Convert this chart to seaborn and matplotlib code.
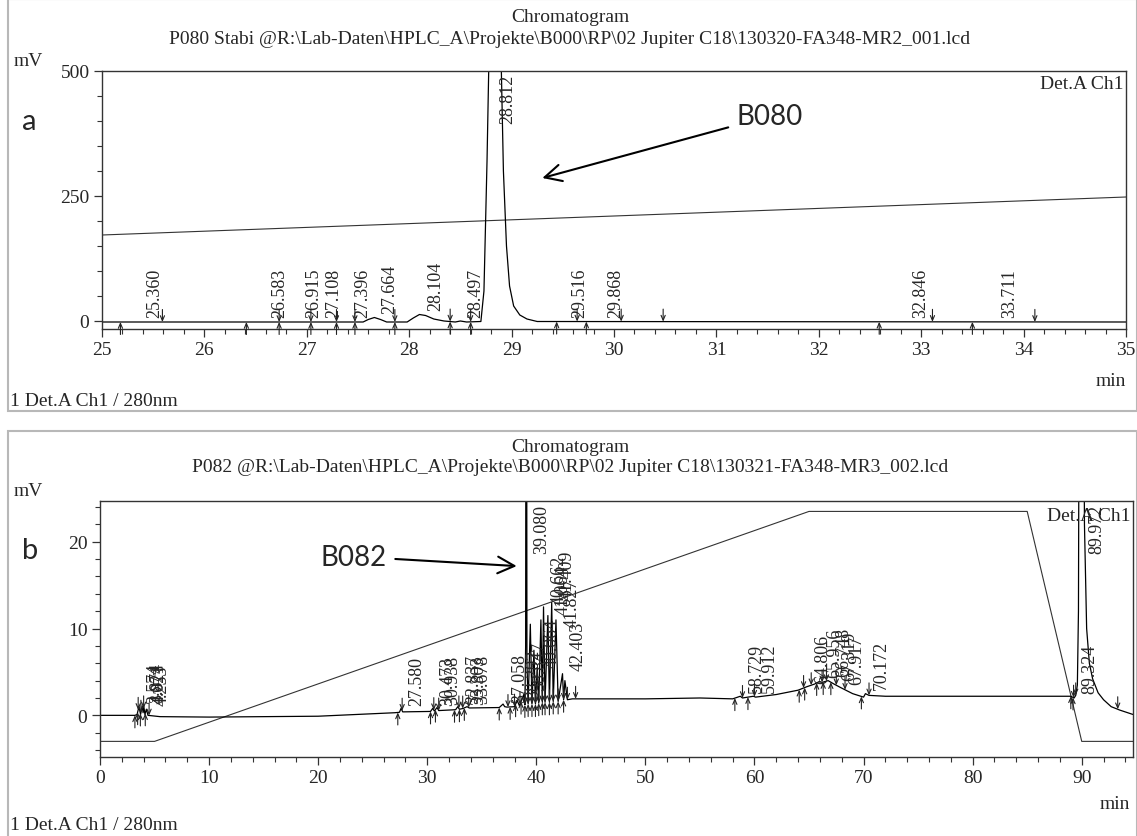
import numpy as np
import matplotlib
matplotlib.use("Agg")
import matplotlib.pyplot as plt
import seaborn as sns
from matplotlib.patches import Rectangle
from matplotlib.ticker import MultipleLocator

# ---------------- data: panel a (P080) ----------------
a_time = [25.0, 27.55, 27.60, 27.66, 27.72, 27.78, 27.98, 28.04, 28.10, 28.16, 28.24, 28.34,
          28.45, 28.50, 28.56, 28.70, 28.73, 28.76, 28.79, 28.84, 28.89, 28.92, 28.95, 28.98,
          29.02, 29.08, 29.15, 29.25, 35.0]
a_mv = [-2, -2, 3, 7, 3, -2, -2, 6, 13, 11, 4, 0,
        -2, 0, -2, -1, 60, 320, 650, 1100, 600, 300, 150, 70,
        30, 12, 4, -1, -2]
a_grad_time = [25.0, 35.0]
a_grad_val = [172, 248]
a_peak_rt = [25.360, 26.583, 26.915, 27.108, 27.396, 27.664, 28.104, 28.497, 28.812,
             29.516, 29.868, 32.846, 33.711]
a_peak_labels = ["25.360", "26.583", "26.915", "27.108", "27.396", "27.664", "28.104",
                 "28.497", "28.812", "29.516", "29.868", "32.846", "33.711"]
a_start = [25.18, 26.41, 26.73, 27.04, 27.29, 27.47, 27.86, 28.40, 28.60, 29.44, 29.73, 32.59, 33.50]
a_end = [25.59, 26.73, 27.04, 27.29, 27.47, 27.86, 28.40, 28.60, 29.64, 30.07, 30.48, 33.11, 34.11]

# ---------------- data: panel b (P082) ----------------
b_time = [0.0, 3.2, 3.4, 3.57, 3.72, 3.87, 3.95, 4.02, 4.12, 4.25, 4.4,
          5.5, 10.0, 20.0, 27.0, 27.45, 27.6, 27.75, 30.3, 30.5, 30.65,
          30.9, 31.05, 32.6, 32.8, 32.95, 33.3, 33.65, 33.85, 36.6, 36.95,
          37.1, 37.3, 38.0, 38.25, 38.45, 38.85, 38.95, 39.02, 39.06, 39.10,
          39.14, 39.25, 39.45, 39.6, 39.78, 39.92, 40.08, 40.22, 40.42, 40.55,
          40.66, 40.8, 41.06, 41.2, 41.41, 41.55, 41.8, 42.0, 42.4, 42.5,
          42.62, 42.85, 43.3, 45.0, 50.0, 55.0, 58.0, 58.7, 58.9, 59.9,
          60.1, 62.0, 64.0, 64.8, 65.5, 65.95, 66.2, 66.75, 67.3, 67.9,
          69.0, 70.0, 70.17, 70.5, 72.0, 85.0, 89.0, 89.3, 89.45, 89.6,
          89.7, 89.8, 90.1, 90.25, 90.45, 90.7, 91.0, 91.5, 92.0, 92.7,
          93.5, 94.7]
b_mv = [0.0, 0.0, 0.1, 1.0, 0.1, 1.1, 0.3, 1.0, 0.1, 0.7, 0.0,
        -0.15, -0.2, -0.1, 0.3, 0.35, 0.8, 0.4, 0.45, 0.8, 0.5,
        0.9, 0.55, 0.65, 1.0, 0.7, 0.8, 1.0, 0.85, 0.9, 1.3,
        1.0, 0.95, 1.0, 1.7, 1.1, 2.4, 1.2, 8.0, 60, 60,
        6.0, 1.3, 10.5, 1.3, 7.5, 1.3, 5.5, 1.4, 11.0, 1.5,
        12.5, 1.5, 11.5, 1.5, 13.0, 1.6, 11.0, 1.6, 4.8, 1.8,
        4.0, 1.8, 1.9, 1.9, 1.9, 2.0, 1.9, 2.2, 2.0, 2.2,
        2.1, 2.4, 2.9, 3.3, 3.6, 3.9, 3.8, 4.0, 3.6, 3.2,
        2.5, 2.1, 2.5, 2.3, 2.2, 2.2, 2.2, 2.0, 2.3, 3.5,
        12, 60, 60, 22, 10, 6.0, 4.2, 2.6, 1.8, 1.0,
        0.6, 0.1]
b_grad_time = [0.0, 5.0, 65.0, 85.0, 90.0, 94.7]
b_grad_val = [-3.0, -3.0, 23.5, 23.5, -3.0, -3.0]
b_peak_rt = [3.574, 3.874, 4.021, 4.253, 27.580, 30.473, 30.938, 32.837, 33.303, 33.678,
             37.058, 38.292, 38.847, 39.080, 40.064, 40.662, 41.064, 41.409, 41.827, 42.403,
             58.729, 59.912, 64.806, 65.956, 66.748, 67.319, 67.917, 70.172, 89.324, 89.972]
b_peak_labels = ["3.574", "3.874", "4.021", "4.253", "27.580", "30.473", "30.938", "32.837",
                 "33.303", "33.678", "37.058", "38.292", "38.847", "39.080", "40.064", "40.662",
                 "41.064", "41.409", "41.827", "42.403", "58.729", "59.912", "64.806", "65.956",
                 "66.748", "67.319", "67.917", "70.172", "89.324", "89.972"]
b_start = [3.2, 3.45, 3.7, 4.15, 27.3, 30.3, 30.75, 32.5, 32.95, 33.4, 36.6, 37.6, 38.1, 38.6,
           38.95, 39.25, 39.6, 39.92, 40.22, 40.55, 40.8, 41.2, 41.55, 42.0, 42.5, 58.2, 59.4,
           64.1, 64.6, 65.7, 66.3, 67.0, 69.8, 89.0, 89.2]
b_end = [3.5, 3.75, 4.0, 4.5, 27.7, 30.6, 31.05, 32.9, 33.25, 33.8, 37.4, 38.0, 38.5, 38.95,
         39.25, 39.6, 39.92, 40.22, 40.55, 40.8, 41.2, 41.55, 42.0, 42.5, 42.85, 43.6, 58.9,
         60.0, 64.5, 65.2, 66.2, 66.6, 67.5, 68.3, 70.5, 89.25, 89.45, 93.3]

title_main = "Chromatogram"
subtitle_a = r"P080 Stabi @R:\Lab-Daten\HPLC_A\Projekte\B000\RP\02 Jupiter C18\130320-FA348-MR2_001.lcd"
subtitle_b = r"P082 @R:\Lab-Daten\HPLC_A\Projekte\B000\RP\02 Jupiter C18\130321-FA348-MR3_002.lcd"
footer = "1 Det.A Ch1 / 280nm"

# ---------------- style ----------------
sns.set_style("ticks")
plt.rcParams["font.family"] = ["Liberation Serif", "DejaVu Serif"]
SANS = ["Lato", "Open Sans", "DejaVu Sans"]

W, H = 1137, 837
fig = plt.figure(figsize=(W / 100, H / 100), dpi=100)

# panel frames
fig.patches.append(Rectangle((8 / W, 1 - 412 / H), (W - 8) / W, 412 / H, transform=fig.transFigure,
                             fill=False, ec="#b8b8b8", lw=1.5))
fig.patches.append(Rectangle((8 / W, -0.01), (W - 8) / W, 1 - 432 / H + 0.01, transform=fig.transFigure,
                             fill=False, ec="#b8b8b8", lw=1.5))

axA = fig.add_axes([102 / W, 1 - 330 / H, (1126 - 102) / W, (330 - 72) / H])
axB = fig.add_axes([100 / W, 1 - 758 / H, (1133 - 100) / W, (758 - 502) / H])


def style_axes(ax):
    for s in ax.spines.values():
        s.set_color("#333333")
        s.set_linewidth(1.0)
    ax.tick_params(axis="both", which="major", direction="out", length=6, width=0.9,
                   labelsize=14, color="#333333", pad=3)
    ax.tick_params(axis="both", which="minor", direction="out", length=3.5, width=0.8, color="#333333")
    ax.set_xlabel("")
    ax.set_ylabel("")


def label_peaks(ax, rts, labels, t, v, ytop):
    for rt, lab in zip(rts, labels):
        h = float(np.interp(rt, t, v))
        if h > ytop:
            ax.annotate(lab, xy=(rt, ytop), xytext=(5, -2), textcoords="offset points",
                        rotation=90, ha="left", va="top", fontsize=13)
        else:
            ax.annotate(lab, xy=(rt, max(h, 0)), xytext=(5, 3), textcoords="offset points",
                        rotation=90, ha="left", va="bottom", fontsize=13)


def marks(ax, ts, t, v, up):
    for x in ts:
        y = float(np.interp(x, t, v))
        ax.annotate("", xy=(x, y), xytext=(0, -9 if up else 9), textcoords="offset points",
                    arrowprops=dict(arrowstyle="->,head_length=0.35,head_width=0.15", lw=0.8,
                                    color="#222222", shrinkA=0, shrinkB=0),
                    annotation_clip=False)


# ---------------- panel a ----------------
sns.lineplot(x=a_grad_time, y=a_grad_val, ax=axA, color="#333333", linewidth=0.8, estimator=None, sort=False)
sns.lineplot(x=a_time, y=a_mv, ax=axA, color="black", linewidth=0.9, estimator=None, sort=False)
axA.set_xlim(25, 35)
axA.set_ylim(-16, 500)
axA.xaxis.set_major_locator(MultipleLocator(1))
axA.xaxis.set_minor_locator(MultipleLocator(0.2))
axA.yaxis.set_major_locator(MultipleLocator(250))
axA.yaxis.set_minor_locator(MultipleLocator(50))
style_axes(axA)
label_peaks(axA, a_peak_rt, a_peak_labels, a_time, a_mv, 500)
marks(axA, a_start, a_time, a_mv, True)
marks(axA, a_end, a_time, a_mv, False)
axA.text(0.998, 0.985, "Det.A Ch1", transform=axA.transAxes, ha="right", va="top", fontsize=14)
axA.annotate("B080", xy=(29.30, 286), xytext=(31.2, 410), fontsize=20, family=SANS,
             ha="left", va="center",
             arrowprops=dict(arrowstyle="->,head_length=0.6,head_width=0.3", lw=1.5, color="black",
                             shrinkA=4, shrinkB=0))

fig.text(570 / W, 1 - 17 / H, title_main, ha="center", va="center", fontsize=14)
fig.text(570 / W, 1 - 40 / H, subtitle_a, ha="center", va="center", fontsize=14)
fig.text(14 / W, 1 - 62 / H, "mV", ha="left", va="center", fontsize=14)
fig.text(1126 / W, 1 - 382 / H, "min", ha="right", va="center", fontsize=14)
fig.text(10 / W, 1 - 402 / H, footer, ha="left", va="center", fontsize=14)
fig.text(22 / W, 1 - 122 / H, "a", ha="left", va="center", fontsize=21, family=SANS)

# ---------------- panel b ----------------
sns.lineplot(x=b_grad_time, y=b_grad_val, ax=axB, color="#333333", linewidth=0.8, estimator=None, sort=False)
sns.lineplot(x=b_time, y=b_mv, ax=axB, color="black", linewidth=0.9, estimator=None, sort=False)
axB.set_xlim(0, 94.7)
axB.set_ylim(-4.8, 24.7)
axB.xaxis.set_major_locator(MultipleLocator(10))
axB.xaxis.set_minor_locator(MultipleLocator(2))
axB.yaxis.set_major_locator(MultipleLocator(10))
axB.yaxis.set_minor_locator(MultipleLocator(2))
style_axes(axB)
label_peaks(axB, b_peak_rt, b_peak_labels, b_time, b_mv, 24.7)
marks(axB, b_start, b_time, b_mv, True)
marks(axB, b_end, b_time, b_mv, False)
axB.text(0.998, 0.975, "Det.A Ch1", transform=axB.transAxes, ha="right", va="top", fontsize=14)
axB.annotate("B082", xy=(38.2, 17.2), xytext=(20.2, 18.3), fontsize=20, family=SANS,
             ha="left", va="center",
             arrowprops=dict(arrowstyle="->,head_length=0.6,head_width=0.3", lw=1.5, color="black",
                             shrinkA=4, shrinkB=0))

fig.text(570 / W, 1 - 447 / H, title_main, ha="center", va="center", fontsize=14)
fig.text(570 / W, 1 - 468 / H, subtitle_b, ha="center", va="center", fontsize=14)
fig.text(14 / W, 1 - 492 / H, "mV", ha="left", va="center", fontsize=14)
fig.text(1130 / W, 1 - 805 / H, "min", ha="right", va="center", fontsize=14)
fig.text(10 / W, 1 - 826 / H, footer, ha="left", va="center", fontsize=14)
fig.text(22 / W, 1 - 551 / H, "b", ha="left", va="center", fontsize=21, family=SANS)

fig.savefig("out.png", dpi=100)
